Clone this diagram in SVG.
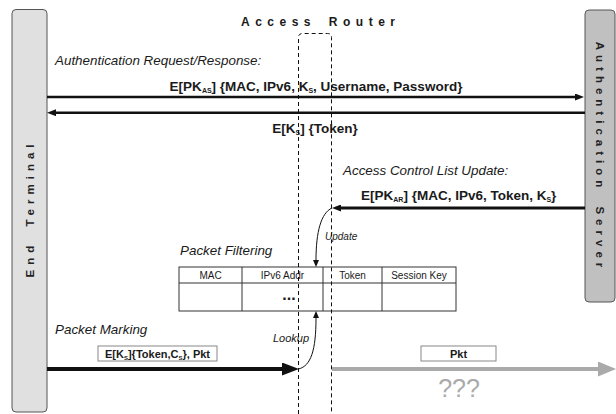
<svg xmlns="http://www.w3.org/2000/svg" width="616" height="414" viewBox="0 0 616 414">
<defs>
<style>
text{font-family:"Liberation Sans",Arial,sans-serif;fill:#1a1a1a}
.it{font-style:italic;font-size:13.4px}
.b{font-weight:bold;font-size:13.5px}
.vt{font-weight:bold;font-size:11.5px;letter-spacing:5px;word-spacing:6px;fill:#222}
.th{font-size:10px}
.sm{font-weight:bold;font-size:11px}
.ln{stroke:#111;fill:none}
.bar{stroke:#555;stroke-width:1}
.box{fill:#fff;stroke:#888;stroke-width:1}
</style>
<marker id="ah" viewBox="0 0 9 7" refX="0" refY="3.5" markerWidth="9" markerHeight="7" markerUnits="userSpaceOnUse" orient="auto"><path d="M0,0L9,3.5L0,7z" fill="#111"/></marker>
<marker id="sh" viewBox="0 0 7 6" refX="0" refY="3" markerWidth="7" markerHeight="6" markerUnits="userSpaceOnUse" orient="auto"><path d="M0,0L7,3L0,6z" fill="#111"/></marker>
<marker id="bh" viewBox="0 0 17 13" refX="0" refY="6.5" markerWidth="17" markerHeight="13" markerUnits="userSpaceOnUse" orient="auto"><path d="M0,0L17,6.5L0,13z" fill="#111"/></marker>
<marker id="gh" viewBox="0 0 18 15" refX="0" refY="7.5" markerWidth="18" markerHeight="15" markerUnits="userSpaceOnUse" orient="auto"><path d="M0,0L18,7.5L0,15z" fill="#aaa"/></marker>
</defs>

<g id="end-terminal">
<rect class="bar" x="12" y="9.5" width="35" height="402.5" rx="4" fill="#e0e0e0"/>
<text class="vt" transform="translate(34,208.5) rotate(-90)" text-anchor="middle">End Terminal</text>
</g>

<g id="auth-server">
<rect class="bar" x="585" y="10" width="30" height="292" rx="4" fill="#c0c0c0"/>
<text class="vt" transform="translate(596,157) rotate(90)" text-anchor="middle">Authentication Server</text>
</g>

<g id="access-router-label">
<text x="241" y="26" style="font-weight:bold;font-size:12px;letter-spacing:5.5px;word-spacing:4px">Access Router</text>
</g>

<g id="acl-table">
<rect x="179" y="267" width="277" height="44" fill="#fff" stroke="#333" stroke-width="1"/>
<line x1="179" y1="283" x2="456" y2="283" stroke="#333"/>
<line x1="242" y1="267" x2="242" y2="311" stroke="#333"/>
<line x1="323" y1="267" x2="323" y2="311" stroke="#333"/>
<line x1="382" y1="267" x2="382" y2="311" stroke="#333"/>
<text class="th" x="210.5" y="279" text-anchor="middle">MAC</text>
<text class="th" x="282.5" y="279" text-anchor="middle">IPv6 Addr</text>
<text class="th" x="352.5" y="279" text-anchor="middle">Token</text>
<text class="th" x="419" y="279" text-anchor="middle">Session Key</text>
<text x="289" y="299.5" text-anchor="middle" style="font-weight:bold;font-size:16px">...</text>
</g>

<g id="labels">
<text class="it" x="55" y="65">Authentication Request/Response:</text>
<text class="it" x="343" y="175">Access Control List Update:</text>
<text class="it" x="180" y="255">Packet Filtering</text>
<text class="it" x="55" y="334">Packet Marking</text>
<text x="325" y="240" style="font-style:italic;font-size:10px">Update</text>
<text x="273" y="342" style="font-style:italic;font-size:11px">Lookup</text>
<text x="459" y="397" text-anchor="middle" style="font-size:25px;fill:#aaa">???</text>
</g>

<g id="connectors">
<line class="ln" x1="47" y1="97" x2="575" y2="97" stroke-width="2.5" marker-end="url(#ah)"/>
<text class="b" x="316" y="91" text-anchor="middle">E[PK<tspan font-size="7" dy="2">AS</tspan><tspan dy="-2">] {MAC, IPv6, K</tspan><tspan font-size="7" dy="2">S</tspan><tspan dy="-2">, Username, Password}</tspan></text>
<line class="ln" x1="585" y1="112.7" x2="56" y2="112.7" stroke-width="2.5" marker-end="url(#ah)"/>
<text class="b" x="315" y="133" text-anchor="middle">E[K<tspan font-size="7" dy="2">S</tspan><tspan dy="-2">] {Token}</tspan></text>
<line class="ln" x1="585" y1="208" x2="341" y2="208" stroke-width="3" marker-end="url(#ah)"/>
<text class="b" x="361" y="200">E[PK<tspan font-size="7" dy="2">AR</tspan><tspan dy="-2">] {MAC, IPv6, Token, K</tspan><tspan font-size="7" dy="2">S</tspan><tspan dy="-2">}</tspan></text>
<path class="ln" d="M332,208 C321,213 316,232 316,260" stroke-width="1" marker-end="url(#sh)"/>
<path class="ln" d="M298.5,369 C311,366 316,350 316,318" stroke-width="1" marker-end="url(#sh)"/>
<line x1="47" y1="369" x2="282" y2="369" stroke="#111" stroke-width="4" marker-end="url(#bh)"/>
<line x1="332" y1="369" x2="598" y2="369" stroke="#aaa" stroke-width="4" marker-end="url(#gh)"/>
<rect class="box" x="98" y="346" width="119" height="15"/>
<text class="sm" x="157.5" y="357.5" text-anchor="middle">E[K<tspan font-size="6" dy="2">S</tspan><tspan dy="-2">]{Token,C</tspan><tspan font-size="6" dy="2">S</tspan><tspan dy="-2">}, Pkt</tspan></text>
<rect class="box" x="421" y="346" width="75" height="15"/>
<text class="sm" x="458.5" y="357.5" text-anchor="middle">Pkt</text>
</g>

<g id="access-router">
<path d="M298.5,414 V37.5 Q298.5,33.5 302.5,33.5 H327.5 Q331.5,33.5 331.5,37.5 V414" fill="none" stroke="#111" stroke-width="1" stroke-dasharray="4,3"/>
</g>
</svg>
